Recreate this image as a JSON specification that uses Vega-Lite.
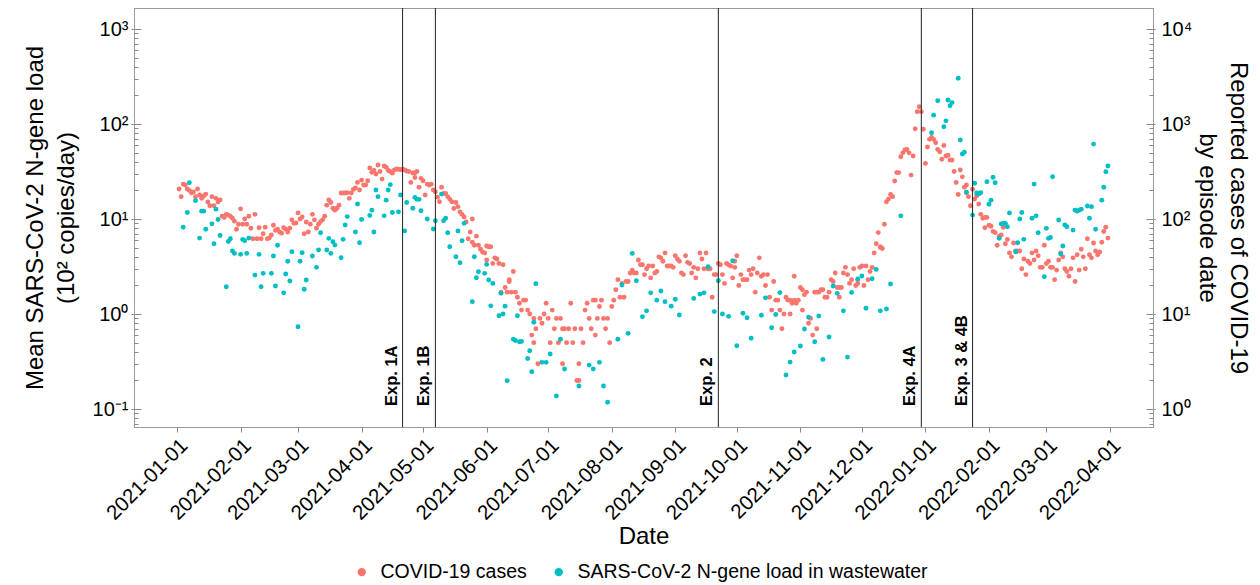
{
  "$schema": "https://vega.github.io/schema/vega-lite/v6.json",
  "width": 1019,
  "height": 419,
  "autosize": {"type": "none"},
  "padding": {"left": 134, "top": 8, "right": 107, "bottom": 158},
  "config": {
    "font": "Liberation Sans",
    "view": {"stroke": "#9a9a9a", "strokeWidth": 1},
    "axis": {
      "grid": false,
      "domainColor": "#9a9a9a",
      "tickColor": "#8a8a8a",
      "labelColor": "#000000",
      "titleColor": "#000000",
      "titleFontWeight": "normal",
      "labelFont": "Liberation Sans",
      "titleFont": "Liberation Sans"
    }
  },
  "datasets": {
    "experiments": [
      {"date": "2021-04-21", "label": "Exp. 1A"},
      {"date": "2021-05-07", "label": "Exp. 1B"},
      {"date": "2021-09-22", "label": "Exp. 2"},
      {"date": "2021-12-30", "label": "Exp. 4A"},
      {"date": "2022-01-24", "label": "Exp. 3 & 4B"}
    ],
    "cases": [
      {"date": "2021-01-02", "cases": 207}, {"date": "2021-01-03", "cases": 172}, {"date": "2021-01-04", "cases": 233}, {"date": "2021-01-05", "cases": 228},
      {"date": "2021-01-06", "cases": 207}, {"date": "2021-01-07", "cases": 200}, {"date": "2021-01-08", "cases": 189}, {"date": "2021-01-09", "cases": 193},
      {"date": "2021-01-10", "cases": 172}, {"date": "2021-01-11", "cases": 207}, {"date": "2021-01-12", "cases": 179}, {"date": "2021-01-13", "cases": 165},
      {"date": "2021-01-14", "cases": 175}, {"date": "2021-01-15", "cases": 183}, {"date": "2021-01-16", "cases": 151}, {"date": "2021-01-17", "cases": 138},
      {"date": "2021-01-18", "cases": 172}, {"date": "2021-01-19", "cases": 138}, {"date": "2021-01-20", "cases": 165}, {"date": "2021-01-21", "cases": 151},
      {"date": "2021-01-22", "cases": 159}, {"date": "2021-01-23", "cases": 107}, {"date": "2021-01-24", "cases": 104}, {"date": "2021-01-25", "cases": 112},
      {"date": "2021-01-26", "cases": 110}, {"date": "2021-01-27", "cases": 107}, {"date": "2021-01-28", "cases": 102}, {"date": "2021-01-29", "cases": 95},
      {"date": "2021-01-30", "cases": 78}, {"date": "2021-01-31", "cases": 88},
      {"date": "2021-02-01", "cases": 128}, {"date": "2021-02-02", "cases": 88}, {"date": "2021-02-03", "cases": 100}, {"date": "2021-02-04", "cases": 88},
      {"date": "2021-02-05", "cases": 107}, {"date": "2021-02-06", "cases": 80}, {"date": "2021-02-07", "cases": 62}, {"date": "2021-02-08", "cases": 112},
      {"date": "2021-02-09", "cases": 62}, {"date": "2021-02-10", "cases": 81}, {"date": "2021-02-11", "cases": 62}, {"date": "2021-02-12", "cases": 70},
      {"date": "2021-02-13", "cases": 82}, {"date": "2021-02-14", "cases": 62}, {"date": "2021-02-15", "cases": 63}, {"date": "2021-02-16", "cases": 68},
      {"date": "2021-02-17", "cases": 86}, {"date": "2021-02-18", "cases": 76}, {"date": "2021-02-19", "cases": 78}, {"date": "2021-02-20", "cases": 73},
      {"date": "2021-02-21", "cases": 71}, {"date": "2021-02-22", "cases": 81}, {"date": "2021-02-23", "cases": 78}, {"date": "2021-02-24", "cases": 73},
      {"date": "2021-02-25", "cases": 80}, {"date": "2021-02-26", "cases": 98}, {"date": "2021-02-27", "cases": 90}, {"date": "2021-02-28", "cases": 91},
      {"date": "2021-03-01", "cases": 116}, {"date": "2021-03-02", "cases": 100}, {"date": "2021-03-03", "cases": 105}, {"date": "2021-03-04", "cases": 70},
      {"date": "2021-03-05", "cases": 93}, {"date": "2021-03-06", "cases": 73}, {"date": "2021-03-07", "cases": 88}, {"date": "2021-03-08", "cases": 112},
      {"date": "2021-03-09", "cases": 98}, {"date": "2021-03-10", "cases": 80}, {"date": "2021-03-11", "cases": 88}, {"date": "2021-03-12", "cases": 94},
      {"date": "2021-03-13", "cases": 98}, {"date": "2021-03-14", "cases": 107}, {"date": "2021-03-15", "cases": 140}, {"date": "2021-03-16", "cases": 159},
      {"date": "2021-03-17", "cases": 149}, {"date": "2021-03-18", "cases": 130}, {"date": "2021-03-19", "cases": 124}, {"date": "2021-03-20", "cases": 130},
      {"date": "2021-03-21", "cases": 140}, {"date": "2021-03-22", "cases": 188}, {"date": "2021-03-23", "cases": 188}, {"date": "2021-03-24", "cases": 188},
      {"date": "2021-03-25", "cases": 189}, {"date": "2021-03-26", "cases": 165}, {"date": "2021-03-27", "cases": 188}, {"date": "2021-03-28", "cases": 205},
      {"date": "2021-03-29", "cases": 212}, {"date": "2021-03-30", "cases": 243}, {"date": "2021-03-31", "cases": 202},
      {"date": "2021-04-01", "cases": 257}, {"date": "2021-04-02", "cases": 228}, {"date": "2021-04-03", "cases": 228}, {"date": "2021-04-04", "cases": 253},
      {"date": "2021-04-05", "cases": 344}, {"date": "2021-04-06", "cases": 310}, {"date": "2021-04-07", "cases": 324}, {"date": "2021-04-08", "cases": 298},
      {"date": "2021-04-09", "cases": 370}, {"date": "2021-04-10", "cases": 316}, {"date": "2021-04-11", "cases": 263}, {"date": "2021-04-12", "cases": 362},
      {"date": "2021-04-13", "cases": 350}, {"date": "2021-04-14", "cases": 324}, {"date": "2021-04-15", "cases": 316}, {"date": "2021-04-16", "cases": 304},
      {"date": "2021-04-17", "cases": 328}, {"date": "2021-04-18", "cases": 336}, {"date": "2021-04-19", "cases": 334}, {"date": "2021-04-20", "cases": 330},
      {"date": "2021-04-21", "cases": 334}, {"date": "2021-04-22", "cases": 328}, {"date": "2021-04-23", "cases": 320}, {"date": "2021-04-24", "cases": 316},
      {"date": "2021-04-25", "cases": 243}, {"date": "2021-04-26", "cases": 305}, {"date": "2021-04-27", "cases": 307}, {"date": "2021-04-27", "cases": 274},
      {"date": "2021-04-28", "cases": 316}, {"date": "2021-04-29", "cases": 216}, {"date": "2021-04-30", "cases": 268},
      {"date": "2021-05-01", "cases": 253}, {"date": "2021-05-02", "cases": 179}, {"date": "2021-05-03", "cases": 233}, {"date": "2021-05-04", "cases": 228},
      {"date": "2021-05-05", "cases": 233}, {"date": "2021-05-06", "cases": 202}, {"date": "2021-05-07", "cases": 193}, {"date": "2021-05-08", "cases": 170},
      {"date": "2021-05-09", "cases": 152}, {"date": "2021-05-10", "cases": 216}, {"date": "2021-05-11", "cases": 186}, {"date": "2021-05-12", "cases": 186},
      {"date": "2021-05-13", "cases": 172}, {"date": "2021-05-14", "cases": 162}, {"date": "2021-05-15", "cases": 152}, {"date": "2021-05-16", "cases": 129},
      {"date": "2021-05-17", "cases": 149}, {"date": "2021-05-18", "cases": 135}, {"date": "2021-05-19", "cases": 119}, {"date": "2021-05-20", "cases": 112},
      {"date": "2021-05-21", "cases": 105}, {"date": "2021-05-22", "cases": 93}, {"date": "2021-05-23", "cases": 62}, {"date": "2021-05-24", "cases": 73},
      {"date": "2021-05-25", "cases": 100}, {"date": "2021-05-25", "cases": 57}, {"date": "2021-05-26", "cases": 53}, {"date": "2021-05-27", "cases": 66},
      {"date": "2021-05-28", "cases": 53}, {"date": "2021-05-29", "cases": 48}, {"date": "2021-05-30", "cases": 45}, {"date": "2021-05-31", "cases": 44},
      {"date": "2021-06-01", "cases": 37}, {"date": "2021-06-01", "cases": 52}, {"date": "2021-06-02", "cases": 51}, {"date": "2021-06-03", "cases": 51},
      {"date": "2021-06-04", "cases": 34}, {"date": "2021-06-05", "cases": 39}, {"date": "2021-06-06", "cases": 38}, {"date": "2021-06-07", "cases": 34},
      {"date": "2021-06-08", "cases": 17}, {"date": "2021-06-09", "cases": 33}, {"date": "2021-06-10", "cases": 19}, {"date": "2021-06-11", "cases": 17},
      {"date": "2021-06-12", "cases": 22}, {"date": "2021-06-12", "cases": 23}, {"date": "2021-06-13", "cases": 17}, {"date": "2021-06-14", "cases": 28},
      {"date": "2021-06-15", "cases": 17}, {"date": "2021-06-16", "cases": 15}, {"date": "2021-06-17", "cases": 13}, {"date": "2021-06-18", "cases": 11},
      {"date": "2021-06-19", "cases": 14}, {"date": "2021-06-20", "cases": 14}, {"date": "2021-06-21", "cases": 11}, {"date": "2021-06-22", "cases": 10},
      {"date": "2021-06-23", "cases": 6}, {"date": "2021-06-24", "cases": 9}, {"date": "2021-06-24", "cases": 5}, {"date": "2021-06-25", "cases": 7},
      {"date": "2021-06-26", "cases": 3}, {"date": "2021-06-27", "cases": 9}, {"date": "2021-06-28", "cases": 8}, {"date": "2021-06-29", "cases": 10},
      {"date": "2021-06-30", "cases": 13},
      {"date": "2021-07-01", "cases": 9}, {"date": "2021-07-02", "cases": 5}, {"date": "2021-07-03", "cases": 11}, {"date": "2021-07-04", "cases": 7},
      {"date": "2021-07-05", "cases": 9}, {"date": "2021-07-06", "cases": 5}, {"date": "2021-07-07", "cases": 9}, {"date": "2021-07-08", "cases": 7},
      {"date": "2021-07-08", "cases": 3}, {"date": "2021-07-09", "cases": 7}, {"date": "2021-07-10", "cases": 5}, {"date": "2021-07-11", "cases": 7},
      {"date": "2021-07-12", "cases": 13}, {"date": "2021-07-13", "cases": 5}, {"date": "2021-07-14", "cases": 7}, {"date": "2021-07-15", "cases": 2},
      {"date": "2021-07-16", "cases": 3}, {"date": "2021-07-16", "cases": 2}, {"date": "2021-07-17", "cases": 7}, {"date": "2021-07-18", "cases": 5},
      {"date": "2021-07-19", "cases": 11}, {"date": "2021-07-20", "cases": 13}, {"date": "2021-07-21", "cases": 9}, {"date": "2021-07-22", "cases": 7},
      {"date": "2021-07-23", "cases": 14}, {"date": "2021-07-24", "cases": 6}, {"date": "2021-07-24", "cases": 14}, {"date": "2021-07-25", "cases": 9},
      {"date": "2021-07-26", "cases": 12}, {"date": "2021-07-27", "cases": 14}, {"date": "2021-07-28", "cases": 9}, {"date": "2021-07-29", "cases": 7},
      {"date": "2021-07-30", "cases": 9}, {"date": "2021-07-31", "cases": 5},
      {"date": "2021-08-01", "cases": 12}, {"date": "2021-08-02", "cases": 14}, {"date": "2021-08-03", "cases": 18}, {"date": "2021-08-04", "cases": 23},
      {"date": "2021-08-05", "cases": 15}, {"date": "2021-08-06", "cases": 21}, {"date": "2021-08-07", "cases": 15}, {"date": "2021-08-08", "cases": 22},
      {"date": "2021-08-09", "cases": 22}, {"date": "2021-08-10", "cases": 27}, {"date": "2021-08-11", "cases": 29}, {"date": "2021-08-12", "cases": 27},
      {"date": "2021-08-13", "cases": 27}, {"date": "2021-08-14", "cases": 37}, {"date": "2021-08-15", "cases": 33}, {"date": "2021-08-16", "cases": 33},
      {"date": "2021-08-17", "cases": 26}, {"date": "2021-08-18", "cases": 30}, {"date": "2021-08-19", "cases": 32}, {"date": "2021-08-20", "cases": 24},
      {"date": "2021-08-21", "cases": 32}, {"date": "2021-08-22", "cases": 27}, {"date": "2021-08-23", "cases": 28}, {"date": "2021-08-24", "cases": 40},
      {"date": "2021-08-25", "cases": 39}, {"date": "2021-08-26", "cases": 36}, {"date": "2021-08-27", "cases": 44}, {"date": "2021-08-28", "cases": 32},
      {"date": "2021-08-29", "cases": 32}, {"date": "2021-08-30", "cases": 32}, {"date": "2021-08-31", "cases": 31},
      {"date": "2021-09-01", "cases": 41}, {"date": "2021-09-02", "cases": 38}, {"date": "2021-09-03", "cases": 36}, {"date": "2021-09-04", "cases": 27},
      {"date": "2021-09-05", "cases": 26}, {"date": "2021-09-06", "cases": 41}, {"date": "2021-09-07", "cases": 35}, {"date": "2021-09-08", "cases": 34},
      {"date": "2021-09-09", "cases": 27}, {"date": "2021-09-10", "cases": 31}, {"date": "2021-09-11", "cases": 24}, {"date": "2021-09-12", "cases": 30},
      {"date": "2021-09-13", "cases": 44}, {"date": "2021-09-14", "cases": 38}, {"date": "2021-09-15", "cases": 30}, {"date": "2021-09-16", "cases": 44},
      {"date": "2021-09-17", "cases": 30}, {"date": "2021-09-18", "cases": 30}, {"date": "2021-09-19", "cases": 15}, {"date": "2021-09-20", "cases": 26},
      {"date": "2021-09-21", "cases": 26}, {"date": "2021-09-22", "cases": 34}, {"date": "2021-09-23", "cases": 33}, {"date": "2021-09-24", "cases": 26},
      {"date": "2021-09-25", "cases": 21}, {"date": "2021-09-26", "cases": 34}, {"date": "2021-09-27", "cases": 33}, {"date": "2021-09-28", "cases": 32},
      {"date": "2021-09-29", "cases": 24}, {"date": "2021-09-30", "cases": 31}, {"date": "2021-09-30", "cases": 36},
      {"date": "2021-10-01", "cases": 41}, {"date": "2021-10-02", "cases": 20}, {"date": "2021-10-03", "cases": 26}, {"date": "2021-10-04", "cases": 23},
      {"date": "2021-10-05", "cases": 23}, {"date": "2021-10-06", "cases": 23}, {"date": "2021-10-07", "cases": 29}, {"date": "2021-10-08", "cases": 26},
      {"date": "2021-10-09", "cases": 30}, {"date": "2021-10-10", "cases": 17}, {"date": "2021-10-11", "cases": 27}, {"date": "2021-10-12", "cases": 39},
      {"date": "2021-10-13", "cases": 25}, {"date": "2021-10-14", "cases": 26}, {"date": "2021-10-15", "cases": 20}, {"date": "2021-10-16", "cases": 26},
      {"date": "2021-10-17", "cases": 15}, {"date": "2021-10-18", "cases": 11}, {"date": "2021-10-19", "cases": 22}, {"date": "2021-10-20", "cases": 14},
      {"date": "2021-10-21", "cases": 14}, {"date": "2021-10-22", "cases": 11}, {"date": "2021-10-23", "cases": 7}, {"date": "2021-10-24", "cases": 10},
      {"date": "2021-10-25", "cases": 15}, {"date": "2021-10-26", "cases": 14}, {"date": "2021-10-27", "cases": 14}, {"date": "2021-10-27", "cases": 10},
      {"date": "2021-10-28", "cases": 13}, {"date": "2021-10-29", "cases": 14}, {"date": "2021-10-29", "cases": 25}, {"date": "2021-10-30", "cases": 13},
      {"date": "2021-10-31", "cases": 14},
      {"date": "2021-11-01", "cases": 19}, {"date": "2021-11-02", "cases": 11}, {"date": "2021-11-02", "cases": 18}, {"date": "2021-11-03", "cases": 16},
      {"date": "2021-11-04", "cases": 17}, {"date": "2021-11-05", "cases": 8}, {"date": "2021-11-06", "cases": 9}, {"date": "2021-11-07", "cases": 6},
      {"date": "2021-11-08", "cases": 17}, {"date": "2021-11-09", "cases": 17}, {"date": "2021-11-09", "cases": 7}, {"date": "2021-11-10", "cases": 17},
      {"date": "2021-11-11", "cases": 18}, {"date": "2021-11-12", "cases": 18}, {"date": "2021-11-13", "cases": 15}, {"date": "2021-11-14", "cases": 15},
      {"date": "2021-11-15", "cases": 17}, {"date": "2021-11-16", "cases": 23}, {"date": "2021-11-17", "cases": 22}, {"date": "2021-11-18", "cases": 27},
      {"date": "2021-11-19", "cases": 19}, {"date": "2021-11-20", "cases": 19}, {"date": "2021-11-20", "cases": 15}, {"date": "2021-11-21", "cases": 19},
      {"date": "2021-11-22", "cases": 27}, {"date": "2021-11-23", "cases": 31}, {"date": "2021-11-24", "cases": 26}, {"date": "2021-11-25", "cases": 21},
      {"date": "2021-11-26", "cases": 23}, {"date": "2021-11-27", "cases": 30}, {"date": "2021-11-28", "cases": 20}, {"date": "2021-11-29", "cases": 21},
      {"date": "2021-11-29", "cases": 23}, {"date": "2021-11-30", "cases": 31},
      {"date": "2021-12-01", "cases": 32}, {"date": "2021-12-02", "cases": 20}, {"date": "2021-12-03", "cases": 32}, {"date": "2021-12-04", "cases": 23},
      {"date": "2021-12-05", "cases": 28}, {"date": "2021-12-06", "cases": 31}, {"date": "2021-12-07", "cases": 44}, {"date": "2021-12-08", "cases": 55},
      {"date": "2021-12-09", "cases": 72}, {"date": "2021-12-10", "cases": 51}, {"date": "2021-12-10", "cases": 50}, {"date": "2021-12-11", "cases": 49},
      {"date": "2021-12-12", "cases": 88}, {"date": "2021-12-13", "cases": 152}, {"date": "2021-12-14", "cases": 162}, {"date": "2021-12-15", "cases": 181},
      {"date": "2021-12-16", "cases": 172}, {"date": "2021-12-17", "cases": 251}, {"date": "2021-12-18", "cases": 308}, {"date": "2021-12-19", "cases": 308},
      {"date": "2021-12-20", "cases": 453}, {"date": "2021-12-21", "cases": 497}, {"date": "2021-12-22", "cases": 532}, {"date": "2021-12-23", "cases": 540},
      {"date": "2021-12-24", "cases": 497}, {"date": "2021-12-25", "cases": 290}, {"date": "2021-12-26", "cases": 460}, {"date": "2021-12-27", "cases": 889},
      {"date": "2021-12-28", "cases": 1350}, {"date": "2021-12-29", "cases": 1520}, {"date": "2021-12-30", "cases": 1350}, {"date": "2021-12-31", "cases": 880},
      {"date": "2022-01-01", "cases": 385}, {"date": "2022-01-02", "cases": 573}, {"date": "2022-01-03", "cases": 690}, {"date": "2022-01-04", "cases": 720},
      {"date": "2022-01-05", "cases": 690}, {"date": "2022-01-06", "cases": 635}, {"date": "2022-01-07", "cases": 540}, {"date": "2022-01-08", "cases": 510},
      {"date": "2022-01-09", "cases": 426}, {"date": "2022-01-10", "cases": 595}, {"date": "2022-01-11", "cases": 460}, {"date": "2022-01-12", "cases": 470},
      {"date": "2022-01-13", "cases": 418}, {"date": "2022-01-14", "cases": 418}, {"date": "2022-01-15", "cases": 316}, {"date": "2022-01-16", "cases": 242},
      {"date": "2022-01-17", "cases": 181}, {"date": "2022-01-18", "cases": 328}, {"date": "2022-01-19", "cases": 278}, {"date": "2022-01-20", "cases": 216},
      {"date": "2022-01-21", "cases": 228}, {"date": "2022-01-21", "cases": 189}, {"date": "2022-01-22", "cases": 172}, {"date": "2022-01-23", "cases": 138},
      {"date": "2022-01-24", "cases": 206}, {"date": "2022-01-25", "cases": 162}, {"date": "2022-01-26", "cases": 175}, {"date": "2022-01-27", "cases": 144},
      {"date": "2022-01-28", "cases": 112}, {"date": "2022-01-29", "cases": 102}, {"date": "2022-01-30", "cases": 104}, {"date": "2022-01-30", "cases": 81},
      {"date": "2022-01-31", "cases": 104},
      {"date": "2022-02-01", "cases": 86}, {"date": "2022-02-02", "cases": 84}, {"date": "2022-02-03", "cases": 74}, {"date": "2022-02-04", "cases": 72},
      {"date": "2022-02-05", "cases": 53}, {"date": "2022-02-06", "cases": 66}, {"date": "2022-02-07", "cases": 68}, {"date": "2022-02-08", "cases": 82},
      {"date": "2022-02-09", "cases": 55}, {"date": "2022-02-10", "cases": 61}, {"date": "2022-02-11", "cases": 44}, {"date": "2022-02-12", "cases": 40},
      {"date": "2022-02-13", "cases": 56}, {"date": "2022-02-14", "cases": 46}, {"date": "2022-02-15", "cases": 46}, {"date": "2022-02-16", "cases": 46},
      {"date": "2022-02-17", "cases": 30}, {"date": "2022-02-18", "cases": 38}, {"date": "2022-02-19", "cases": 26}, {"date": "2022-02-20", "cases": 36},
      {"date": "2022-02-21", "cases": 34}, {"date": "2022-02-22", "cases": 44}, {"date": "2022-02-23", "cases": 37}, {"date": "2022-02-24", "cases": 46},
      {"date": "2022-02-25", "cases": 41}, {"date": "2022-02-26", "cases": 31}, {"date": "2022-02-27", "cases": 31}, {"date": "2022-02-28", "cases": 53},
      {"date": "2022-03-01", "cases": 34}, {"date": "2022-03-02", "cases": 36}, {"date": "2022-03-03", "cases": 31}, {"date": "2022-03-04", "cases": 31},
      {"date": "2022-03-05", "cases": 23}, {"date": "2022-03-06", "cases": 29}, {"date": "2022-03-07", "cases": 37}, {"date": "2022-03-08", "cases": 44},
      {"date": "2022-03-09", "cases": 40}, {"date": "2022-03-10", "cases": 30}, {"date": "2022-03-11", "cases": 28}, {"date": "2022-03-12", "cases": 25},
      {"date": "2022-03-13", "cases": 30}, {"date": "2022-03-14", "cases": 39}, {"date": "2022-03-15", "cases": 22}, {"date": "2022-03-16", "cases": 42},
      {"date": "2022-03-17", "cases": 29}, {"date": "2022-03-18", "cases": 48}, {"date": "2022-03-19", "cases": 40}, {"date": "2022-03-20", "cases": 30},
      {"date": "2022-03-21", "cases": 62}, {"date": "2022-03-22", "cases": 42}, {"date": "2022-03-23", "cases": 39}, {"date": "2022-03-24", "cases": 56},
      {"date": "2022-03-25", "cases": 46}, {"date": "2022-03-26", "cases": 42}, {"date": "2022-03-27", "cases": 45}, {"date": "2022-03-28", "cases": 57},
      {"date": "2022-03-29", "cases": 74}, {"date": "2022-03-30", "cases": 82}, {"date": "2022-03-31", "cases": 63}
    ],
    "wastewater": [
      {"date": "2021-01-04", "load": 8.2}, {"date": "2021-01-06", "load": 11.7}, {"date": "2021-01-07", "load": 24.1}, {"date": "2021-01-10", "load": 15.6},
      {"date": "2021-01-12", "load": 6.3}, {"date": "2021-01-13", "load": 12.1}, {"date": "2021-01-14", "load": 12.1}, {"date": "2021-01-15", "load": 7.8},
      {"date": "2021-01-18", "load": 8.9}, {"date": "2021-01-19", "load": 5.5}, {"date": "2021-01-20", "load": 12.7}, {"date": "2021-01-21", "load": 9.9},
      {"date": "2021-01-22", "load": 6.7}, {"date": "2021-01-25", "load": 1.94}, {"date": "2021-01-26", "load": 5.8}, {"date": "2021-01-27", "load": 6.2},
      {"date": "2021-01-28", "load": 4.6}, {"date": "2021-01-29", "load": 4.35}, {"date": "2021-02-01", "load": 4.25}, {"date": "2021-02-02", "load": 6.1},
      {"date": "2021-02-03", "load": 5.9}, {"date": "2021-02-04", "load": 4.35}, {"date": "2021-02-05", "load": 6.3}, {"date": "2021-02-08", "load": 2.57},
      {"date": "2021-02-10", "load": 4.25}, {"date": "2021-02-11", "load": 1.94}, {"date": "2021-02-12", "load": 2.68}, {"date": "2021-02-16", "load": 2.68},
      {"date": "2021-02-17", "load": 4.08}, {"date": "2021-02-18", "load": 1.97}, {"date": "2021-02-19", "load": 5.3}, {"date": "2021-02-22", "load": 1.67},
      {"date": "2021-02-23", "load": 2.64}, {"date": "2021-02-24", "load": 3.6}, {"date": "2021-02-25", "load": 2.23}, {"date": "2021-02-26", "load": 4.53},
      {"date": "2021-03-01", "load": 0.735}, {"date": "2021-03-02", "load": 3.6}, {"date": "2021-03-03", "load": 4.42}, {"date": "2021-03-04", "load": 1.82},
      {"date": "2021-03-05", "load": 2.28}, {"date": "2021-03-08", "load": 4.08}, {"date": "2021-03-10", "load": 3.1}, {"date": "2021-03-11", "load": 4.72},
      {"date": "2021-03-12", "load": 7.17}, {"date": "2021-03-15", "load": 4.72}, {"date": "2021-03-16", "load": 6.26}, {"date": "2021-03-17", "load": 4.35},
      {"date": "2021-03-18", "load": 5.77}, {"date": "2021-03-19", "load": 5.32}, {"date": "2021-03-22", "load": 3.91}, {"date": "2021-03-23", "load": 6.11},
      {"date": "2021-03-24", "load": 8.64}, {"date": "2021-03-25", "load": 10.6}, {"date": "2021-03-29", "load": 7.3}, {"date": "2021-03-30", "load": 14.4},
      {"date": "2021-03-31", "load": 5.63}, {"date": "2021-04-01", "load": 9.9}, {"date": "2021-04-05", "load": 10.9}, {"date": "2021-04-06", "load": 12.4},
      {"date": "2021-04-07", "load": 7.3}, {"date": "2021-04-08", "load": 20.2}, {"date": "2021-04-09", "load": 17.2}, {"date": "2021-04-12", "load": 10.8},
      {"date": "2021-04-13", "load": 15.8}, {"date": "2021-04-14", "load": 20.2}, {"date": "2021-04-15", "load": 23}, {"date": "2021-04-16", "load": 11.7},
      {"date": "2021-04-19", "load": 11.9}, {"date": "2021-04-20", "load": 17.9}, {"date": "2021-04-22", "load": 7.5}, {"date": "2021-04-23", "load": 14.9},
      {"date": "2021-04-26", "load": 13}, {"date": "2021-04-27", "load": 16.9}, {"date": "2021-04-28", "load": 16.1}, {"date": "2021-04-29", "load": 16.1},
      {"date": "2021-04-30", "load": 12.2}, {"date": "2021-05-03", "load": 10}, {"date": "2021-05-06", "load": 7.85}, {"date": "2021-05-07", "load": 9.6},
      {"date": "2021-05-10", "load": 18.3}, {"date": "2021-05-11", "load": 9.6}, {"date": "2021-05-12", "load": 10.2}, {"date": "2021-05-13", "load": 7.17},
      {"date": "2021-05-14", "load": 5.11}, {"date": "2021-05-17", "load": 4.01}, {"date": "2021-05-18", "load": 7.48}, {"date": "2021-05-19", "load": 3.47},
      {"date": "2021-05-20", "load": 5.91}, {"date": "2021-05-21", "load": 9.0}, {"date": "2021-05-25", "load": 1.35}, {"date": "2021-05-26", "load": 4.01},
      {"date": "2021-05-27", "load": 2.41}, {"date": "2021-05-28", "load": 2.79}, {"date": "2021-05-31", "load": 2.68}, {"date": "2021-06-01", "load": 3.33},
      {"date": "2021-06-02", "load": 2.28}, {"date": "2021-06-03", "load": 1.22}, {"date": "2021-06-04", "load": 2.1}, {"date": "2021-06-07", "load": 0.96},
      {"date": "2021-06-08", "load": 1.65}, {"date": "2021-06-09", "load": 1.0}, {"date": "2021-06-10", "load": 1.21}, {"date": "2021-06-11", "load": 0.199},
      {"date": "2021-06-14", "load": 0.542}, {"date": "2021-06-15", "load": 0.526}, {"date": "2021-06-16", "load": 0.96}, {"date": "2021-06-17", "load": 0.51},
      {"date": "2021-06-18", "load": 0.515}, {"date": "2021-06-21", "load": 0.34}, {"date": "2021-06-22", "load": 0.411}, {"date": "2021-06-23", "load": 0.247},
      {"date": "2021-06-24", "load": 0.82}, {"date": "2021-06-25", "load": 2.08}, {"date": "2021-06-28", "load": 0.31}, {"date": "2021-06-30", "load": 0.31},
      {"date": "2021-07-02", "load": 0.379}, {"date": "2021-07-05", "load": 0.137}, {"date": "2021-07-07", "load": 0.542}, {"date": "2021-07-09", "load": 0.264},
      {"date": "2021-07-16", "load": 0.175}, {"date": "2021-07-21", "load": 0.29}, {"date": "2021-07-23", "load": 0.264}, {"date": "2021-07-26", "load": 0.31},
      {"date": "2021-07-28", "load": 0.175}, {"date": "2021-07-30", "load": 0.118}, {"date": "2021-08-04", "load": 0.542}, {"date": "2021-08-06", "load": 2.02},
      {"date": "2021-08-09", "load": 0.626}, {"date": "2021-08-11", "load": 4.35}, {"date": "2021-08-13", "load": 2.24}, {"date": "2021-08-16", "load": 0.937},
      {"date": "2021-08-18", "load": 1.08}, {"date": "2021-08-20", "load": 1.67}, {"date": "2021-08-23", "load": 1.4}, {"date": "2021-08-25", "load": 1.75},
      {"date": "2021-08-27", "load": 1.35}, {"date": "2021-08-30", "load": 1.21}, {"date": "2021-09-01", "load": 1.43}, {"date": "2021-09-03", "load": 0.976},
      {"date": "2021-09-10", "load": 1.46}, {"date": "2021-09-13", "load": 1.62}, {"date": "2021-09-15", "load": 1.67}, {"date": "2021-09-17", "load": 3.15},
      {"date": "2021-09-20", "load": 1.06}, {"date": "2021-09-22", "load": 2.24}, {"date": "2021-09-24", "load": 1.0}, {"date": "2021-09-27", "load": 0.945},
      {"date": "2021-09-29", "load": 3.64}, {"date": "2021-10-01", "load": 0.464}, {"date": "2021-10-04", "load": 1.02}, {"date": "2021-10-06", "load": 0.914},
      {"date": "2021-10-08", "load": 0.555}, {"date": "2021-10-13", "load": 0.97}, {"date": "2021-10-15", "load": 1.48}, {"date": "2021-10-18", "load": 0.717},
      {"date": "2021-10-20", "load": 0.99}, {"date": "2021-10-22", "load": 1.68}, {"date": "2021-10-25", "load": 0.228}, {"date": "2021-10-27", "load": 0.312},
      {"date": "2021-10-29", "load": 0.398}, {"date": "2021-11-01", "load": 0.46}, {"date": "2021-11-03", "load": 0.695}, {"date": "2021-11-05", "load": 0.924},
      {"date": "2021-11-08", "load": 0.511}, {"date": "2021-11-10", "load": 0.953}, {"date": "2021-11-12", "load": 0.333}, {"date": "2021-11-15", "load": 0.573},
      {"date": "2021-11-17", "load": 1.97}, {"date": "2021-11-19", "load": 1.65}, {"date": "2021-11-22", "load": 1.08}, {"date": "2021-11-24", "load": 0.352},
      {"date": "2021-11-26", "load": 1.69}, {"date": "2021-11-29", "load": 2.34}, {"date": "2021-12-01", "load": 2.51}, {"date": "2021-12-03", "load": 1.15},
      {"date": "2021-12-06", "load": 2.35}, {"date": "2021-12-08", "load": 2.95}, {"date": "2021-12-10", "load": 1.08}, {"date": "2021-12-13", "load": 1.13},
      {"date": "2021-12-15", "load": 2.07}, {"date": "2021-12-20", "load": 10.8}, {"date": "2022-01-04", "load": 81}, {"date": "2022-01-05", "load": 124},
      {"date": "2022-01-07", "load": 176}, {"date": "2022-01-10", "load": 93.7}, {"date": "2022-01-11", "load": 108}, {"date": "2022-01-12", "load": 179},
      {"date": "2022-01-13", "load": 156}, {"date": "2022-01-14", "load": 168}, {"date": "2022-01-17", "load": 303}, {"date": "2022-01-18", "load": 67.9},
      {"date": "2022-01-19", "load": 48.3}, {"date": "2022-01-20", "load": 50.4}, {"date": "2022-01-21", "load": 19.2}, {"date": "2022-01-24", "load": 11},
      {"date": "2022-01-25", "load": 23.8}, {"date": "2022-01-26", "load": 18.8}, {"date": "2022-01-27", "load": 18.3}, {"date": "2022-01-28", "load": 18.9},
      {"date": "2022-01-31", "load": 24.7}, {"date": "2022-02-01", "load": 14.3}, {"date": "2022-02-02", "load": 15.8}, {"date": "2022-02-03", "load": 27.5},
      {"date": "2022-02-04", "load": 24.1}, {"date": "2022-02-06", "load": 6.26}, {"date": "2022-02-07", "load": 8.86}, {"date": "2022-02-08", "load": 9.0},
      {"date": "2022-02-09", "load": 9.0}, {"date": "2022-02-10", "load": 8.3}, {"date": "2022-02-11", "load": 11.6}, {"date": "2022-02-14", "load": 4.53},
      {"date": "2022-02-15", "load": 5.63}, {"date": "2022-02-16", "load": 10}, {"date": "2022-02-17", "load": 11.7}, {"date": "2022-02-18", "load": 6.11},
      {"date": "2022-02-22", "load": 10.2}, {"date": "2022-02-23", "load": 23.3}, {"date": "2022-02-24", "load": 10.8}, {"date": "2022-02-25", "load": 7.17},
      {"date": "2022-02-28", "load": 2.47}, {"date": "2022-03-01", "load": 7.98}, {"date": "2022-03-02", "load": 6.26}, {"date": "2022-03-03", "load": 6.4},
      {"date": "2022-03-04", "load": 27.9}, {"date": "2022-03-07", "load": 9.76}, {"date": "2022-03-08", "load": 4.28}, {"date": "2022-03-09", "load": 5.2},
      {"date": "2022-03-10", "load": 8.64}, {"date": "2022-03-11", "load": 8.3}, {"date": "2022-03-14", "load": 7.65}, {"date": "2022-03-15", "load": 12.4},
      {"date": "2022-03-16", "load": 12.1}, {"date": "2022-03-17", "load": 12.4}, {"date": "2022-03-18", "load": 12.7}, {"date": "2022-03-21", "load": 13.7},
      {"date": "2022-03-22", "load": 10.2}, {"date": "2022-03-23", "load": 13.5}, {"date": "2022-03-24", "load": 61.5}, {"date": "2022-03-25", "load": 7.8},
      {"date": "2022-03-28", "load": 15.8}, {"date": "2022-03-29", "load": 21.6}, {"date": "2022-03-30", "load": 31.5}, {"date": "2022-03-31", "load": 36.1}
    ]
  },
  "encoding": {
    "x": {
      "field": "date",
      "type": "temporal",
      "title": "Date",
      "scale": {
        "type": "utc",
        "nice": false,
        "domain": [
          {"year": 2020, "month": 12, "date": 11, "utc": true},
          {"year": 2022, "month": 4, "date": 22, "utc": true}
        ]
      },
      "axis": {
        "values": [
          {"year": 2021, "month": 1, "date": 1, "utc": true},
          {"year": 2021, "month": 2, "date": 1, "utc": true},
          {"year": 2021, "month": 3, "date": 1, "utc": true},
          {"year": 2021, "month": 4, "date": 1, "utc": true},
          {"year": 2021, "month": 5, "date": 1, "utc": true},
          {"year": 2021, "month": 6, "date": 1, "utc": true},
          {"year": 2021, "month": 7, "date": 1, "utc": true},
          {"year": 2021, "month": 8, "date": 1, "utc": true},
          {"year": 2021, "month": 9, "date": 1, "utc": true},
          {"year": 2021, "month": 10, "date": 1, "utc": true},
          {"year": 2021, "month": 11, "date": 1, "utc": true},
          {"year": 2021, "month": 12, "date": 1, "utc": true},
          {"year": 2022, "month": 1, "date": 1, "utc": true},
          {"year": 2022, "month": 2, "date": 1, "utc": true},
          {"year": 2022, "month": 3, "date": 1, "utc": true},
          {"year": 2022, "month": 4, "date": 1, "utc": true}
        ],
        "format": "%Y-%m-%d",
        "labelAngle": -45,
        "labelOverlap": false,
        "labelFontSize": 20.5,
        "labelPadding": 3,
        "tickSize": 5,
        "titleFontSize": 24,
        "titlePadding": 1
      }
    }
  },
  "layer": [
    {
      "data": {"name": "cases"},
      "mark": {"type": "point", "filled": true, "size": 24, "opacity": 1, "strokeWidth": 0},
      "encoding": {
        "y": {
          "field": "cases",
          "type": "quantitative",
          "scale": {"type": "log", "domain": [0.647, 16640], "nice": false},
          "axis": {
            "orient": "right",
            "values": [1, 10, 100, 1000, 10000],
            "labelExpr": "datum.value < 5 ? '10⁰' : datum.value < 50 ? '10¹' : datum.value < 500 ? '10²' : datum.value < 5000 ? '10³' : '10⁴'",
            "labelFontSize": 20,
            "labelPadding": 6,
            "tickSize": 2,
            "title": ["Reported cases of COVID-19", "by episode date"],
            "titleFontSize": 24,
            "titleLineHeight": 31,
            "titlePadding": 3
          }
        },
        "color": {
          "datum": "COVID-19 cases",
          "type": "nominal",
          "scale": {
            "domain": ["COVID-19 cases", "SARS-CoV-2 N-gene load in wastewater"],
            "range": ["#F8766D", "#00BFC4"]
          },
          "legend": {
            "orient": "none",
            "direction": "horizontal",
            "legendX": 218,
            "legendY": 554,
            "title": null,
            "labelFontSize": 19.5,
            "labelLimit": 0,
            "symbolType": "circle",
            "symbolSize": 70,
            "symbolStrokeWidth": 0,
            "columnPadding": 22,
            "labelOffset": 9
          }
        }
      }
    },
    {
      "data": {"name": "wastewater"},
      "mark": {"type": "point", "filled": true, "size": 24, "opacity": 1, "strokeWidth": 0},
      "encoding": {
        "y": {
          "field": "load",
          "type": "quantitative",
          "scale": {"type": "log", "domain": [0.0647, 1664], "nice": false},
          "axis": {
            "orient": "left",
            "values": [0.1, 1, 10, 100, 1000],
            "labelExpr": "datum.value < 0.5 ? '10⁻¹' : datum.value < 5 ? '10⁰' : datum.value < 50 ? '10¹' : datum.value < 500 ? '10²' : '10³'",
            "labelFontSize": 20,
            "labelPadding": 3,
            "tickSize": 3,
            "title": ["Mean SARS-CoV-2 N-gene load", "(10² copies/day)"],
            "titleFontSize": 24,
            "titleLineHeight": 31,
            "titlePadding": 14
          }
        },
        "color": {
          "datum": "SARS-CoV-2 N-gene load in wastewater",
          "type": "nominal"
        }
      }
    },
    {
      "data": {"values": [{"date": "2021-06-01"}]},
      "mark": {"type": "point", "opacity": 0},
      "encoding": {
        "y": {
          "datum": 1,
          "type": "quantitative",
          "scale": {"type": "log", "domain": [0.0647, 1664], "nice": false},
          "axis": {
            "orient": "left",
            "values": [0.07, 0.08, 0.09, 0.1, 0.2, 0.3, 0.4, 0.5, 0.6, 0.7, 0.8, 0.9, 1, 2, 3, 4, 5, 6, 7, 8, 9, 10, 20, 30, 40, 50, 60, 70, 80, 90, 100, 200, 300, 400, 500, 600, 700, 800, 900, 1000],
            "labels": false,
            "domain": false,
            "title": null,
            "tickSize": {"condition": {"test": "indexof([0.1, 1, 10, 100, 1000], datum.value) >= 0", "value": -7}, "value": -4}
          }
        }
      }
    },
    {
      "data": {"values": [{"date": "2021-06-01"}]},
      "mark": {"type": "point", "opacity": 0},
      "encoding": {
        "y": {
          "datum": 10,
          "type": "quantitative",
          "scale": {"type": "log", "domain": [0.647, 16640], "nice": false},
          "axis": {
            "orient": "right",
            "values": [0.7, 0.8, 0.9, 1, 2, 3, 4, 5, 6, 7, 8, 9, 10, 20, 30, 40, 50, 60, 70, 80, 90, 100, 200, 300, 400, 500, 600, 700, 800, 900, 1000, 2000, 3000, 4000, 5000, 6000, 7000, 8000, 9000, 10000],
            "labels": false,
            "domain": false,
            "title": null,
            "tickSize": {"condition": {"test": "indexof([1, 10, 100, 1000, 10000], datum.value) >= 0", "value": -7}, "value": -4}
          }
        }
      }
    },
    {
      "data": {"name": "experiments"},
      "mark": {"type": "rule", "color": "#222222", "strokeWidth": 1},
      "encoding": {}
    },
    {
      "data": {"name": "experiments"},
      "mark": {"type": "text", "angle": 270, "align": "left", "baseline": "bottom", "dy": -3, "fontSize": 16.5, "fontWeight": "bold", "font": "Liberation Sans", "color": "#000000"},
      "encoding": {
        "text": {"field": "label"},
        "y": {
          "datum": 0.1076,
          "type": "quantitative",
          "scale": {"type": "log", "domain": [0.0647, 1664], "nice": false},
          "axis": null
        }
      }
    }
  ],
  "resolve": {"scale": {"y": "independent", "color": "shared"}}
}
